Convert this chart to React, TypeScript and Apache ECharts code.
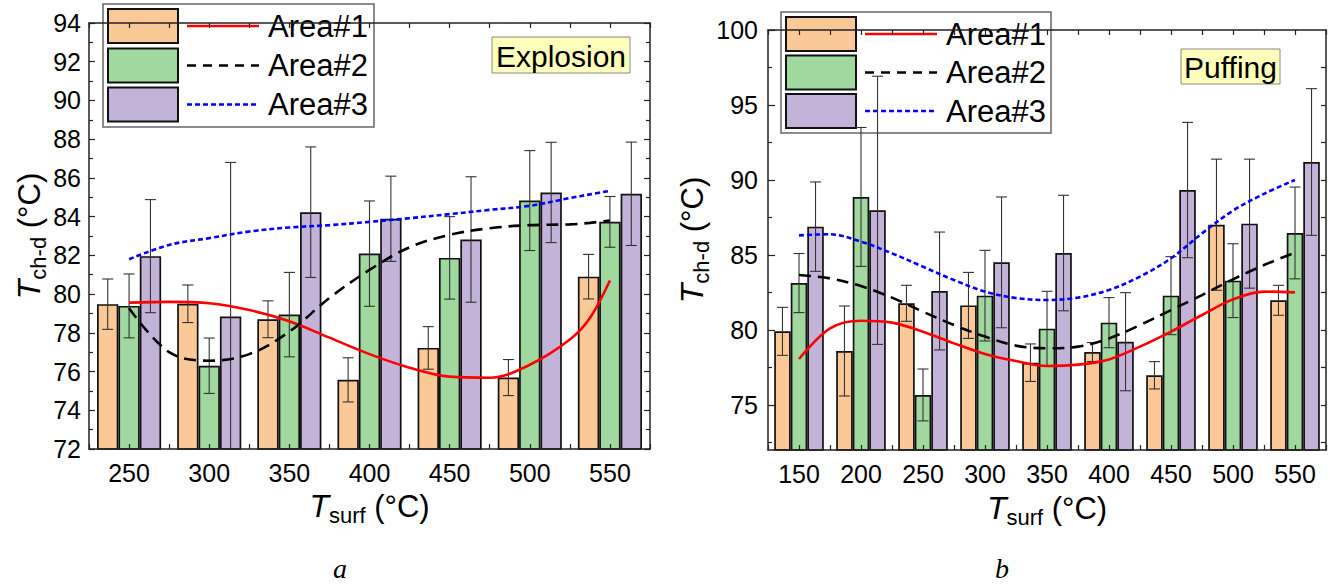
import React, { useEffect, useRef } from 'react';
import * as echarts from 'echarts';

// ---------- Data: panel a (Explosion) ----------
const catsA = ['250', '300', '350', '400', '450', '500', '550'];
const area1A = [79.48, 79.5, 78.7, 75.57, 77.22, 75.69, 80.9];
const area1AErr = [1.3, 0.97, 0.95, 1.14, 1.1, 0.93, 1.15];
const area2A = [79.39, 76.3, 78.94, 82.09, 81.87, 84.83, 83.73];
const area2AErr = [1.65, 1.43, 2.18, 2.72, 2.13, 2.58, 1.31];
const area3A = [81.96, 78.84, 84.23, 83.89, 82.82, 85.25, 85.18];
const area3AErr = [2.92, 7.96, 3.37, 2.2, 3.24, 2.59, 2.67];

const fitXA = [250, 275, 300, 325, 350, 375, 400, 425, 450, 475, 500, 525, 537.5, 550];
const fit1A = [79.56, 79.6, 79.53, 79.18, 78.6, 77.75, 76.9, 76.2, 75.74, 75.68, 76.35, 77.65, 78.76, 80.7];
const fit2A = [79.27, 77.0, 76.56, 76.9, 78.06, 79.8, 81.25, 82.42, 83.06, 83.4, 83.56, 83.6, 83.68, 83.8];
const fit3A = [81.8, 82.54, 82.89, 83.23, 83.44, 83.56, 83.73, 83.92, 84.13, 84.35, 84.56, 84.96, 85.15, 85.33];

// ---------- Data: panel b (Puffing) ----------
const catsB = ['150', '200', '250', '300', '350', '400', '450', '500', '550'];
const area1B = [79.91, 78.6, 81.78, 81.64, 77.82, 78.53, 76.98, 87.02, 81.98];
const area1BErr = [1.6, 3.0, 1.2, 2.2, 1.25, 0.63, 0.91, 4.37, 1.0];
const area2B = [83.13, 88.87, 75.67, 82.29, 80.09, 80.49, 82.29, 83.29, 86.47];
const area2BErr = [1.97, 4.63, 1.73, 3.02, 2.49, 1.67, 2.6, 2.46, 3.06];
const area3B = [86.89, 87.98, 82.6, 84.51, 85.13, 79.22, 89.33, 87.09, 91.2];
const area3BErr = [2.98, 8.94, 3.93, 4.36, 3.85, 3.27, 4.51, 4.3, 4.89];

const fitXB = [150, 175, 200, 225, 250, 275, 300, 325, 350, 375, 400, 425, 450, 475, 500, 525, 550];
const fit1B = [78.07, 80.11, 80.62, 80.49, 79.89, 79.11, 78.4, 77.93, 77.6, 77.69, 78.04, 78.89, 79.89, 81.0, 82.04, 82.56, 82.51];
const fit2B = [83.67, 83.44, 82.93, 82.16, 81.22, 80.33, 79.56, 78.96, 78.78, 78.89, 79.44, 80.33, 81.33, 82.33, 83.38, 84.33, 85.16];
const fit3B = [86.31, 86.38, 85.89, 85.11, 84.22, 83.33, 82.56, 82.13, 82.0, 82.16, 82.67, 83.56, 84.78, 86.44, 87.96, 89.08, 90.0];

const yLabelsB = [75, 80, 85, 90, 95, 100];
const yMinorB = [72.5, 77.5, 82.5, 87.5, 92.5, 97.5];
const yAllB = [72.5, 75, 77.5, 80, 82.5, 85, 87.5, 90, 92.5, 95, 97.5];

const seriesNames = ['Area#1', 'Area#2', 'Area#3'];

// ---------- Styles ----------
const FONT = "'Liberation Sans', Arial, sans-serif";
const barColors = ['#FBC898', '#A0D8A0', '#C3B3D8'];
const lineColors = ['#FF0000', '#000000', '#0000FF'];
const lineDashes: any[] = ['solid', [12, 7], [5, 3]];
const AXIS_COLOR = '#222';

function errRender(offsetIdx: number) {
  return (params: any, api: any) => {
    const ci = api.value(0);
    const v = api.value(1);
    const e = api.value(2);
    const c = api.coord([ci, v]);
    const band = api.size([1, 0])[0];
    const bw = (band * 0.8) / 3;
    const x = c[0] + (offsetIdx - 1) * bw;
    const cs = params.coordSys;
    let yTop = api.coord([ci, v + e])[1];
    let yBot = api.coord([ci, v - e])[1];
    const topClip = yTop < cs.y;
    const botClip = yBot > cs.y + cs.height;
    yTop = Math.max(yTop, cs.y);
    yBot = Math.min(yBot, cs.y + cs.height);
    const st = { stroke: '#333', lineWidth: 1.1 };
    const hw = 5.5;
    const children: any[] = [
      { type: 'line', shape: { x1: x, y1: yTop, x2: x, y2: yBot }, style: st },
    ];
    if (!topClip) children.push({ type: 'line', shape: { x1: x - hw, y1: yTop, x2: x + hw, y2: yTop }, style: st });
    if (!botClip) children.push({ type: 'line', shape: { x1: x - hw, y1: yBot, x2: x + hw, y2: yBot }, style: st });
    return { type: 'group', children };
  };
}

function nameRich() {
  return {
    t: { fontFamily: FONT, fontStyle: 'italic', fontSize: 32, lineHeight: 40, color: '#000' },
    s: { fontFamily: FONT, fontSize: 22, lineHeight: 18, verticalAlign: 'bottom', color: '#000' },
    n: { fontFamily: FONT, fontSize: 31, lineHeight: 40, color: '#000' },
  };
}

function legendGroup(x0: number, y0: number, rowCenters: number[], boxW: number, boxH: number) {
  const children: any[] = [
    {
      type: 'rect',
      shape: { x: 0, y: 0, width: boxW, height: boxH },
      style: { fill: '#fff', stroke: '#666', lineWidth: 1.5 },
    },
  ];
  rowCenters.forEach((cy, i) => {
    children.push({
      type: 'rect',
      shape: { x: 5, y: cy - 17, width: 70, height: 34 },
      style: { fill: barColors[i], stroke: '#111', lineWidth: 2 },
    });
    children.push({
      type: 'line',
      shape: { x1: 84, y1: cy, x2: 156, y2: cy },
      style: {
        stroke: lineColors[i],
        lineWidth: 2.5,
        lineDash: i === 0 ? null : i === 1 ? [9, 7] : [5, 3],
      },
    });
    children.push({
      type: 'text',
      style: {
        x: 165,
        y: cy,
        text: seriesNames[i],
        font: `31px ${FONT}`,
        fill: '#000',
        verticalAlign: 'middle',
        align: 'left',
      },
    });
  });
  return { type: 'group', x: x0, y: y0, z: 100, children };
}

function tagBox(x: number, y: number, w: number, h: number, text: string) {
  return {
    type: 'group',
    x,
    y,
    z: 100,
    children: [
      { type: 'rect', shape: { x: 0, y: 0, width: w, height: h }, style: { fill: '#FFFFBB', stroke: '#888', lineWidth: 1 } },
      {
        type: 'text',
        style: { x: w / 2, y: h / 2 + 1, text, font: `30px ${FONT}`, fill: '#000', align: 'center', verticalAlign: 'middle' },
      },
    ],
  };
}

export default function App() {
  const ref = useRef<HTMLDivElement>(null);

  useEffect(() => {
    if (!ref.current) return;
    const chart = echarts.init(ref.current, undefined, { renderer: 'svg' });

    const catAxisBase = (gridIndex: number, cats: string[], nameGap: number) => ({
      type: 'category',
      gridIndex,
      data: cats,
      position: 'bottom',
      axisLine: { show: true, lineStyle: { color: AXIS_COLOR, width: 1.5 } },
      axisTick: { show: false },
      axisLabel: { fontFamily: FONT, fontSize: 25, color: '#000', margin: 11 },
      splitLine: { show: false },
      name: '{t|T}{s|surf}{n| (°C)}',
      nameLocation: 'middle',
      nameGap,
      nameTextStyle: { rich: nameRich() },
      z: 5,
    });

    const valX = (gridIndex: number, min: number, position: string, showLine: boolean) => ({
      type: 'value',
      gridIndex,
      min,
      max: 575,
      interval: 25,
      position,
      axisLine: { show: showLine, lineStyle: { color: AXIS_COLOR, width: 1.5 } },
      axisTick: { show: true, inside: true, length: 5, lineStyle: { color: AXIS_COLOR, width: 1.2 } },
      axisLabel: { show: false },
      splitLine: { show: false },
      z: 5,
    });

    const barSeries = (vals: number[], i: number, xAxisIndex: number, yAxisIndex: number) => ({
      type: 'bar',
      name: seriesNames[i],
      xAxisIndex,
      yAxisIndex,
      data: vals,
      barGap: '0%',
      barCategoryGap: '20%',
      itemStyle: { color: barColors[i], borderColor: '#111', borderWidth: 1.7 },
      z: 2,
    });

    const errSeries = (vals: number[], errs: number[], i: number, xAxisIndex: number, yAxisIndex: number) => ({
      type: 'custom',
      xAxisIndex,
      yAxisIndex,
      renderItem: errRender(i),
      data: vals.map((v, k) => [k, v, errs[k]]),
      encode: { x: 0, y: 1 },
      z: 3,
      silent: true,
    });

    const fitSeries = (xs: number[], ys: number[], i: number, xAxisIndex: number, yAxisIndex: number) => ({
      type: 'line',
      name: seriesNames[i] + ' fit',
      xAxisIndex,
      yAxisIndex,
      data: xs.map((x, k) => [x, ys[k]]),
      smooth: 0.35,
      showSymbol: false,
      lineStyle: { color: lineColors[i], width: 2.6, type: lineDashes[i] },
      z: 4,
      silent: true,
    });

    const option: any = {
      animation: false,
      backgroundColor: '#fff',
      grid: [
        { left: 89, top: 23, width: 561, height: 426 },
        { left: 768, top: 30, width: 558, height: 420 },
      ],
      xAxis: [
        catAxisBase(0, catsA, 37),
        valX(0, 225, 'bottom', false),
        valX(0, 225, 'top', true),
        catAxisBase(1, catsB, 38),
        valX(1, 125, 'bottom', false),
        valX(1, 125, 'top', true),
      ],
      yAxis: [
        {
          type: 'value',
          gridIndex: 0,
          min: 72,
          max: 94,
          interval: 2,
          position: 'left',
          axisLine: { show: true, lineStyle: { color: AXIS_COLOR, width: 1.5 } },
          axisTick: { show: true, inside: true, length: 6, lineStyle: { color: AXIS_COLOR, width: 1.2 } },
          minorTick: { show: true, splitNumber: 2, length: 4, lineStyle: { color: AXIS_COLOR, width: 1.2 } },
          axisLabel: { fontFamily: FONT, fontSize: 25, color: '#000', margin: 8 },
          splitLine: { show: false },
          name: '{t|T}{s|ch-d}{n| (°C)}',
          nameLocation: 'middle',
          nameGap: 40,
          nameTextStyle: { rich: nameRich() },
          z: 5,
        },
        {
          type: 'value',
          gridIndex: 0,
          min: 72,
          max: 94,
          interval: 2,
          position: 'right',
          axisLine: { show: true, lineStyle: { color: AXIS_COLOR, width: 1.5 } },
          axisTick: { show: true, inside: true, length: 6, lineStyle: { color: AXIS_COLOR, width: 1.2 } },
          minorTick: { show: true, splitNumber: 2, length: 4, lineStyle: { color: AXIS_COLOR, width: 1.2 } },
          axisLabel: { show: false },
          splitLine: { show: false },
          z: 5,
        },
        {
          type: 'value',
          gridIndex: 1,
          min: 72,
          max: 100,
          position: 'left',
          axisLine: { show: true, lineStyle: { color: AXIS_COLOR, width: 1.5 } },
          axisTick: { show: true, inside: true, length: 7, customValues: yLabelsB, lineStyle: { color: AXIS_COLOR, width: 1.2 } },
          axisLabel: { fontFamily: FONT, fontSize: 25, color: '#000', margin: 10, customValues: yLabelsB },
          splitLine: { show: false },
          name: '{t|T}{s|ch-d}{n| (°C)}',
          nameLocation: 'middle',
          nameGap: 45,
          nameTextStyle: { rich: nameRich() },
          z: 5,
        },
        {
          type: 'value',
          gridIndex: 1,
          min: 72,
          max: 100,
          position: 'left',
          axisLine: { show: false },
          axisTick: { show: true, inside: true, length: 4, customValues: yMinorB, lineStyle: { color: AXIS_COLOR, width: 1.2 } },
          axisLabel: { show: false, customValues: yMinorB },
          splitLine: { show: false },
          z: 5,
        },
        {
          type: 'value',
          gridIndex: 1,
          min: 72,
          max: 100,
          position: 'right',
          axisLine: { show: true, lineStyle: { color: AXIS_COLOR, width: 1.5 } },
          axisTick: { show: true, inside: true, length: 5, customValues: yAllB, lineStyle: { color: AXIS_COLOR, width: 1.2 } },
          axisLabel: { show: false, customValues: yAllB },
          splitLine: { show: false },
          z: 5,
        },
      ],
      series: [
        barSeries(area1A, 0, 0, 0),
        barSeries(area2A, 1, 0, 0),
        barSeries(area3A, 2, 0, 0),
        errSeries(area1A, area1AErr, 0, 0, 0),
        errSeries(area2A, area2AErr, 1, 0, 0),
        errSeries(area3A, area3AErr, 2, 0, 0),
        fitSeries(fitXA, fit1A, 0, 1, 0),
        fitSeries(fitXA, fit2A, 1, 1, 0),
        fitSeries(fitXA, fit3A, 2, 1, 0),
        barSeries(area1B, 0, 3, 2),
        barSeries(area2B, 1, 3, 2),
        barSeries(area3B, 2, 3, 2),
        errSeries(area1B, area1BErr, 0, 3, 2),
        errSeries(area2B, area2BErr, 1, 3, 2),
        errSeries(area3B, area3BErr, 2, 3, 2),
        fitSeries(fitXB, fit1B, 0, 4, 2),
        fitSeries(fitXB, fit2B, 1, 4, 2),
        fitSeries(fitXB, fit3B, 2, 4, 2),
      ],
      graphic: [
        legendGroup(103, 4, [22, 61.5, 100.5], 271, 123),
        legendGroup(781, 12, [22, 60.5, 99], 270, 121),
        tagBox(492, 37, 138, 36, 'Explosion'),
        tagBox(1181, 49, 99, 35, 'Puffing'),
        {
          type: 'text',
          z: 100,
          style: { x: 340, y: 568, text: 'a', font: `italic 28px 'Liberation Serif', serif`, fill: '#000', align: 'center', verticalAlign: 'middle' },
        },
        {
          type: 'text',
          z: 100,
          style: { x: 1002, y: 568, text: 'b', font: `italic 28px 'Liberation Serif', serif`, fill: '#000', align: 'center', verticalAlign: 'middle' },
        },
      ],
    };

    chart.setOption(option);
    return () => chart.dispose();
  }, []);

  return (
    <div
      ref={ref}
      style={{ position: 'fixed', left: 0, top: 0, width: 1335, height: 585, background: '#fff' }}
    />
  );
}
